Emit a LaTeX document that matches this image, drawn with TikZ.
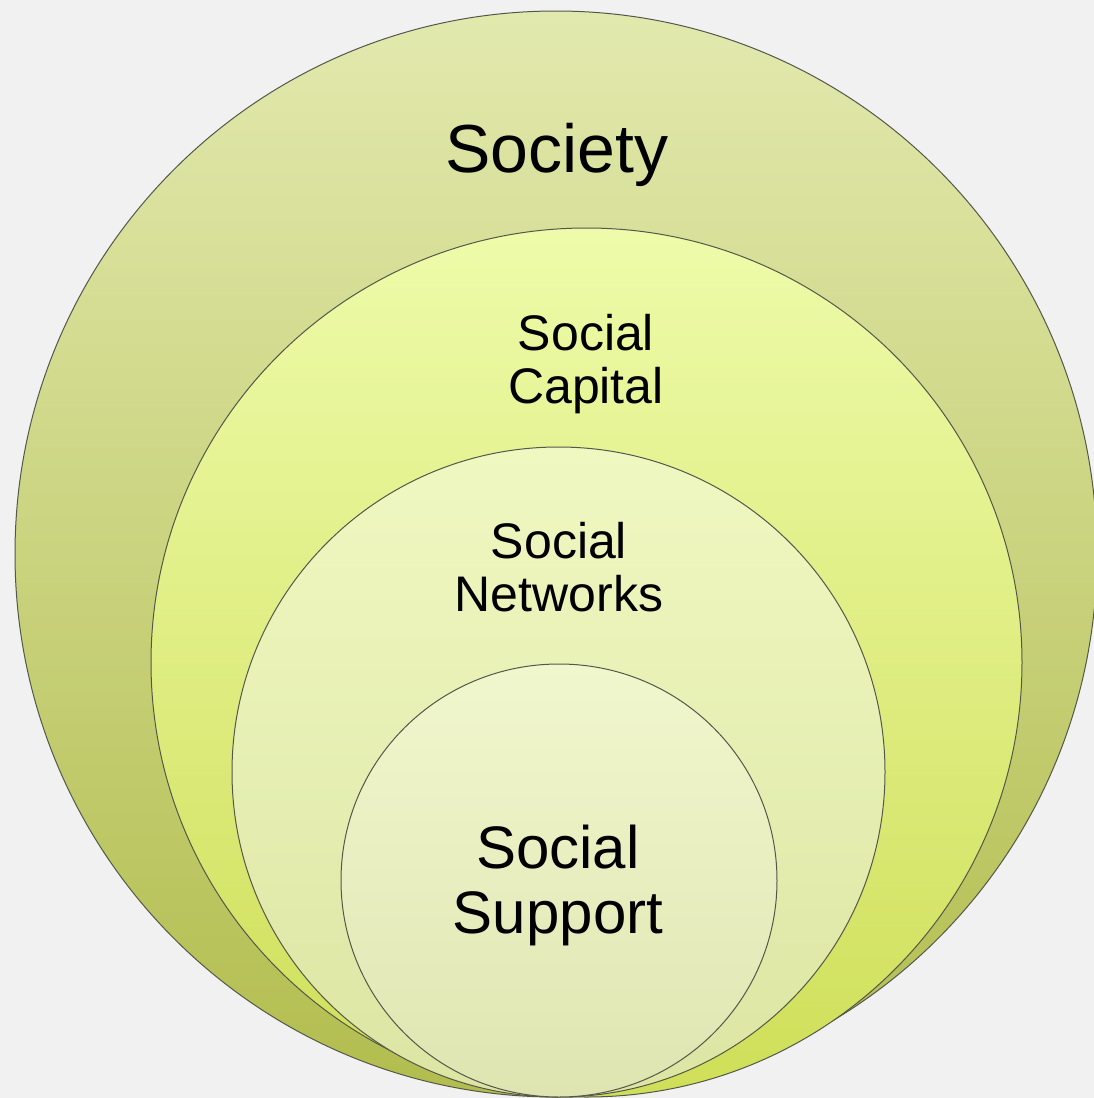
\documentclass[tikz,border=0pt]{standalone}
\usepackage{fontspec}
\setmainfont{Liberation Sans}
\usetikzlibrary{shapes.geometric}

\definecolor{paper}{HTML}{F1F1F1}
\definecolor{rim}{HTML}{55574A}
\definecolor{socTop}{HTML}{E2E9AE}
\definecolor{socMid}{HTML}{D3DB99}
\definecolor{socBot}{HTML}{B2BD4E}
\definecolor{capTop}{HTML}{EEFBAA}
\definecolor{capMid}{HTML}{E4F093}
\definecolor{capBot}{HTML}{CFDF58}
\definecolor{netTop}{HTML}{F0F8C2}
\definecolor{netMid}{HTML}{E7EFB2}
\definecolor{netBot}{HTML}{DCE5A2}
\definecolor{supTop}{HTML}{F1F7CD}
\definecolor{supBot}{HTML}{DFE5B1}

\tikzset{
  ring/.style={ellipse, draw=rim, line width=1pt, inner sep=0pt, outer sep=0pt},
  label/.style={anchor=base, align=center, text=black, inner sep=0pt}
}

\begin{document}
\begin{tikzpicture}[x=1pt, y=-1pt]
  % page and backdrop
  \fill[paper] (0,0) rectangle (1094,1098);
  \useasboundingbox (0,0) rectangle (1094,1098);
  \clip (0,0) rectangle (1094,1098);

  % nested circles, all resting on the same bottom point
  \node[ring, minimum width=1082pt, minimum height=1086pt,
        top color=socTop, middle color=socMid, bottom color=socBot] (society) at (556,554) {};
  \node[ring, minimum width=871pt, minimum height=869pt,
        top color=capTop, middle color=capMid, bottom color=capBot] (capital) at (586.5,662.5) {};
  \node[ring, minimum width=653pt, minimum height=650pt,
        top color=netTop, middle color=netMid, bottom color=netBot] (networks) at (558.5,772) {};
  \node[ring, minimum width=436pt, minimum height=433pt,
        top color=supTop, bottom color=supBot] (support) at (559,880.5) {};

  % labels (base anchor sits on the last line)
  \node[label, font=\fontsize{68}{70}\selectfont] (societyText) at (557,172) {Society};
  \node[label, font=\fontsize{50}{53}\selectfont] (capitalText) at (586,403) {Social\\Capital};
  \node[label, font=\fontsize{50}{53}\selectfont] (networksText) at (559,611) {Social\\Networks};
  \node[label, font=\fontsize{60}{65}\selectfont] (supportText) at (558,933) {Social\\Support};
\end{tikzpicture}
\end{document}
